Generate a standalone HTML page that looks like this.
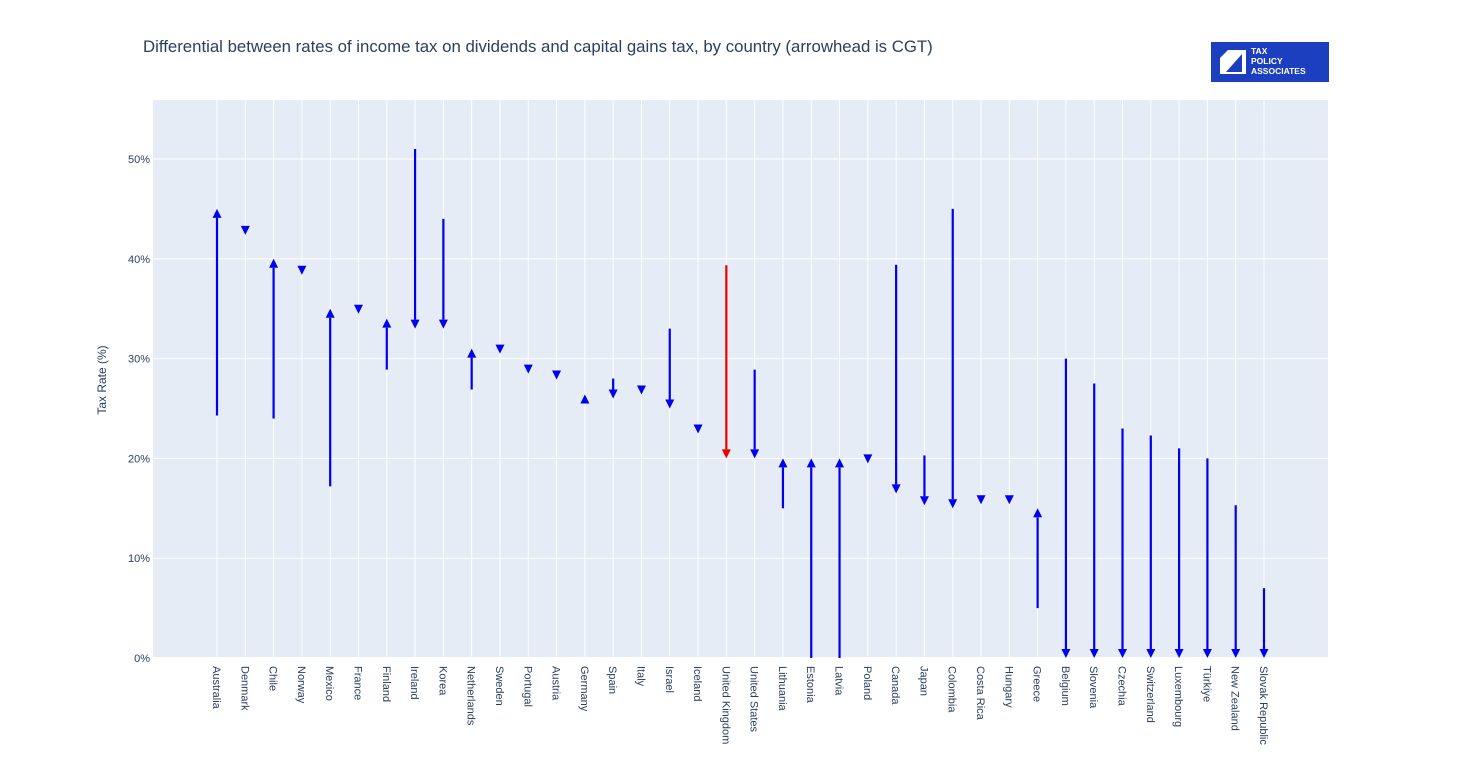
<!DOCTYPE html>
<html><head><meta charset="utf-8"><style>
body{margin:0;background:#fff;width:1482px;height:768px;overflow:hidden;font-family:"Liberation Sans",sans-serif}
</style></head><body>
<svg id="chart" width="1482" height="768" xmlns="http://www.w3.org/2000/svg">
<text x="143" y="52" font-size="16.8" fill="#2a3f5f" font-family="Liberation Sans, sans-serif">Differential between rates of income tax on dividends and capital gains tax, by country (arrowhead is CGT)</text>
<g>
<rect x="1211" y="42" width="118" height="40" fill="#1c3fc0"/>
<path d="M1220 74 L1220 58 L1228 50 L1246 50 L1246 74 Z" fill="#fff"/>
<path d="M1226 72 L1242 54 L1242 72 Z" fill="#1c3fc0"/>
<text x="1251" y="54" font-size="8.5" font-weight="bold" fill="#fff">TAX</text>
<text x="1251" y="64" font-size="8.5" font-weight="bold" fill="#fff">POLICY</text>
<text x="1251" y="74" font-size="8.5" font-weight="bold" fill="#fff">ASSOCIATES</text>
</g>
<rect x="153" y="100" width="1175" height="558" fill="#e5ecf6"/>
<g id="grid"></g>
<g id="marks"></g>
<g id="xlabels"></g>
<g id="ylabels"></g>
<text transform="translate(106,380) rotate(-90)" text-anchor="middle" font-size="12" fill="#2a3f5f">Tax Rate (%)</text>
</svg>
<script>
const countries=["Australia","Denmark","Chile","Norway","Mexico","France","Finland","Ireland","Korea","Netherlands","Sweden","Portugal","Austria","Germany","Spain","Italy","Israel","Iceland","United Kingdom","United States","Lithuania","Estonia","Latvia","Poland","Canada","Japan","Colombia","Costa Rica","Hungary","Greece","Belgium","Slovenia","Czechia","Switzerland","Luxembourg","Türkiye","New Zealand","Slovak Republic"];
const dividendRates=[24.3,42.6,24,38.6,17.2,34.7,28.9,51,44,26.9,30.7,28.7,28.1,26.3,28,26.6,33,22.7,39.35,28.9,15,0,0,19.7,39.4,20.3,45,15.6,15.6,5,30,27.5,23,22.3,21,20,15.3,7];
const cgtRates=[45,42.4,40,38.4,35,34.5,34,33,33,31,30.5,28.5,27.9,26.4,26,26.4,25,22.5,20,20,20,20,20,19.5,16.5,15.3,15,15.4,15.4,15,0,0,0,0,0,0,0,0];
const yTicks=[0,10,20,30,40,50];
const NS="http://www.w3.org/2000/svg";
const X0=217,X1=1264,PL=153,PR=1328,PT=100,PB=658;
const xs=i=>X0+i*(X1-X0)/(countries.length-1);
const ys=v=>PB-v*(PB-159)/50;
function mk(tag,attrs,parent){const e=document.createElementNS(NS,tag);for(const k in attrs)e.setAttribute(k,attrs[k]);parent.appendChild(e);return e;}
const grid=document.getElementById('grid'),marks=document.getElementById('marks'),xl=document.getElementById('xlabels'),yl=document.getElementById('ylabels');
yTicks.forEach(t=>{
  const l=mk('line',{x1:PL,x2:PR,y1:ys(t),y2:ys(t),stroke:'#fff','stroke-width':t===0?2:1},grid);
  
  
  const tx=mk('text',{x:150,y:ys(t)+4,'text-anchor':'end','font-size':11,fill:'#2a3f5f'},yl);
  tx.textContent=t+'%';
  
  
});
countries.forEach((c,i)=>{
  const x=xs(i);
  const g=mk('line',{x1:x,x2:x,y1:PT,y2:PB,stroke:'#fff','stroke-width':1},grid);
  
  
  const col=c==="United Kingdom"?'#ee0000':'#0000ee';
  const d=dividendRates[i],cg=cgtRates[i];
  const y0=ys(d),y1=ys(cg);
  const up=cg>d;
  const grp=mk('g',{},marks);
  
  
  const h=9,w=4.5;
  const base=up?y1+h:y1-h;
  if(Math.abs(y0-y1)>h) mk('line',{x1:x,x2:x,y1:y0,y2:base,stroke:col,'stroke-width':2.2},grp);
  mk('path',{d:`M${x} ${y1} L${x-w} ${base} L${x+w} ${base} Z`,fill:col},grp);
  const t=mk('text',{transform:`translate(${x-4},666) rotate(90)`,'font-size':11,fill:'#2a3f5f'},xl);
  t.textContent=c;
  
  
});
</script>
</body></html>
